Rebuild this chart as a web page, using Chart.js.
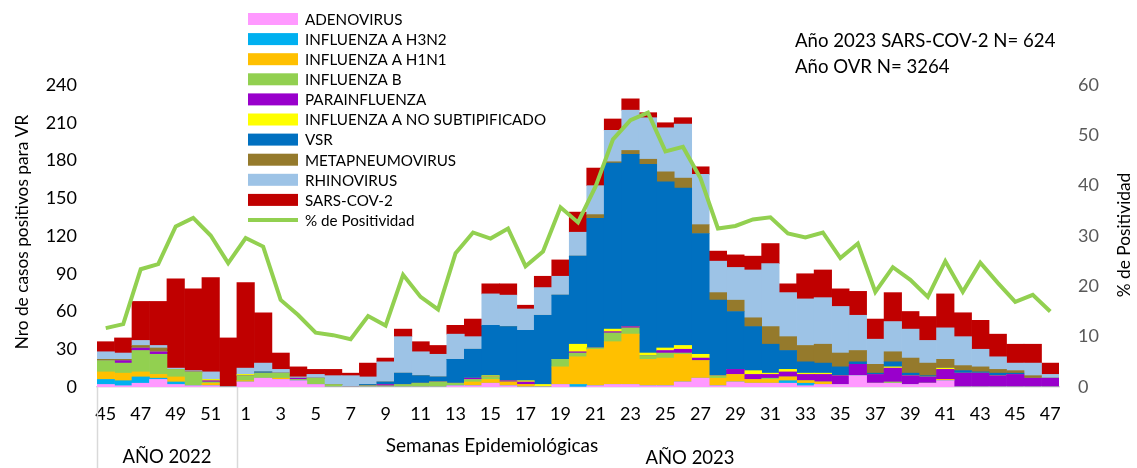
<!DOCTYPE html>
<html><head><meta charset="utf-8">
<script src="https://cdn.jsdelivr.net/npm/chart.js@4.4.1/dist/chart.umd.min.js"></script>
<style>html,body{margin:0;padding:0;background:#fff;}#wrap{width:1137px;height:468px;}</style>
</head><body><div id="wrap"><canvas id="c" width="1137" height="468"></canvas></div>
<script>
const weeks = ['45','46','47','48','49','50','51','52','1','2','3','4','5','6','7','8','9','10','11','12','13','14','15','16','17','18','19','20','21','22','23','24','25','26','27','28','29','30','31','32','33','34','35','36','37','38','39','40','41','42','43','44','45','46','47'];
const adeno = [2,1,3,6,2,1,1,0, 4,7,6,5,2,0,0,0,0,0, 0,0,1,1,3,1,0,0,2,0, 1,2,2,1,1,4,7,1,4,3, 3,3,1,2,2,9,3,3,2,3, 5,0,0,0,0,0,0];
const h3n2 = [4,4,5,1,2,0,0,0, 0,0,0,0,0,0,0,0,0,0, 0,0,0,0,0,0,0,0,0,2, 0,0,0,0,0,0,0,0,0,0, 0,2,2,0,0,0,0,0,0,0, 0,0,0,0,0,0,0];
const h1n1 = [6,6,4,3,4,0,2,0, 1,0,1,0,0,0,0,0,0,0, 0,0,0,3,3,3,2,0,14,22, 29,34,40,21,22,22,14,6,6,3, 3,3,2,2,0,0,0,0,0,0, 1,0,0,0,0,0,0];
const fluB = [9,8,17,16,6,11,1,0, 4,4,4,1,5,2,0,1,1,2, 3,4,2,2,2,0,0,0,6,3, 1,7,5,3,4,1,0,2,0,0, 1,0,0,0,0,0,0,1,0,0, 0,0,0,0,0,0,0];
const para = [0,2,2,2,0,0,1,0, 0,0,0,1,0,0,0,0,1,0, 0,0,0,1,0,1,2,0,0,1, 0,1,1,0,2,3,2,0,4,4, 3,4,5,6,7,9,7,11,7,5, 8,11,11,9,10,7,7];
const fluNS = [0,0,0,0,0,0,1,0, 1,0,0,0,0,0,0,0,0,0, 0,0,0,0,1,0,1,2,0,6, 0,2,0,2,2,3,3,0,0,3, 1,2,1,1,0,0,0,1,0,0, 1,0,0,0,0,0,0];
const vsr = [0,0,0,0,0,0,0,0, 0,1,0,0,0,0,0,1,2,9, 6,4,19,23,40,43,40,55,51,70, 103,132,137,150,132,125,96,60,46,35, 23,15,9,8,7,2,1,4,2,1, 0,2,1,2,1,0,0];
const metap = [1,1,2,3,0,0,0,0, 0,0,0,0,0,0,0,0,0,0, 0,0,0,0,0,0,0,0,0,0, 3,1,3,4,8,8,7,6,9,7, 14,11,13,15,11,9,7,8,12,10, 7,4,4,3,2,2,0];
const rhino = [6,5,4,2,1,1,6,0, 5,7,3,1,3,7,9,6,16,29, 19,18,20,10,25,25,17,22,15,19, 23,25,32,33,35,43,40,25,26,38, 50,35,37,37,37,28,20,24,23,18, 25,23,14,10,6,10,3];
const sars = [8,12,31,35,71,65,75,39, 68,40,13,8,4,5,2,11,3,6, 8,7,7,14,8,9,3,9,13,16, 14,9,9,4,4,5,6,8,10,11, 16,7,20,22,14,19,16,23,14,19, 27,19,23,18,15,15,9];
const positivity = [11.7,12.5,23.4,24.4,31.9,33.6,30.1,24.6, 29.6,27.9,17.3,14.3,10.8,10.3,9.5,14.1,12.2,22.3, 17.9,15.4,26.6,30.7,29.5,31.5,24.0,26.9,35.7,32.7, 39.8,49.2,53.0,54.5,46.8,47.7,41.5,31.5,32.0,33.3, 33.7,30.5,29.7,30.7,25.6,28.5,18.9,23.8,21.3,17.9, 25.0,18.9,24.7,20.7,16.9,18.3,15.0];
const leftTicks = [0,30,60,90,120,150,180,210,240];
const rightTicks = [0,10,20,30,40,50,60];

const FONT = 'Lato, "Open Sans", sans-serif';
function bar(label, data, color){
  return {type:'bar', label, data, backgroundColor:color, borderWidth:0, yAxisID:'y', stack:'s', order:1,
          barPercentage:1.0, categoryPercentage:1.0};
}
const datasets = [
  bar('ADENOVIRUS', adeno, '#ff99ff'),
  bar('INFLUENZA A H3N2', h3n2, '#00b0f0'),
  bar('INFLUENZA A H1N1', h1n1, '#ffc000'),
  bar('INFLUENZA B', fluB, '#92d050'),
  bar('PARAINFLUENZA', para, '#9900cc'),
  bar('INFLUENZA A NO SUBTIPIFICADO', fluNS, '#ffff00'),
  bar('VSR', vsr, '#0070c0'),
  bar('METAPNEUMOVIRUS', metap, '#957a2c'),
  bar('RHINOVIRUS', rhino, '#9dc3e6'),
  bar('SARS-COV-2', sars, '#c00000'),
  {type:'line', label:'% de Positividad', data:positivity, borderColor:'#92d050', backgroundColor:'#92d050',
   borderWidth:4, pointRadius:0, tension:0, yAxisID:'y1', order:0, fill:false}
];

const decor = {
  id:'decor',
  afterDraw(chart){
    const ctx = chart.ctx;
    const ca = chart.chartArea;
    ctx.save();
    // legend
    const ly = 19;
    const lx = 248;
    ctx.font = '15.2px ' + FONT;
    ctx.textBaseline = 'middle';
    ctx.textAlign = 'left';
    chart.data.datasets.forEach((ds, i) => {
      const y = ly + i * 20.1;
      if (ds.type === 'line') {
        ctx.strokeStyle = ds.borderColor; ctx.lineWidth = 4;
        ctx.beginPath(); ctx.moveTo(lx, y); ctx.lineTo(lx + 50, y); ctx.stroke();
      } else {
        ctx.fillStyle = ds.backgroundColor;
        ctx.fillRect(lx, y - 6, 50, 12);
      }
      ctx.fillStyle = '#000';
      ctx.fillText(ds.label, lx + 57, y + 1);
    });
    // annotations
    ctx.font = '18.6px ' + FONT;
    ctx.fillStyle = '#000';
    ctx.fillText('Año 2023 SARS-COV-2 N= 624', 795, 41);
    ctx.fillText('Año OVR N= 3264', 795, 67);
    // axis titles
    ctx.save();
    ctx.translate(22, 232); ctx.rotate(-Math.PI/2);
    ctx.textAlign = 'center'; ctx.font = '17.3px ' + FONT;
    ctx.fillText('Nro de casos positivos para VR', 0, 0);
    ctx.restore();
    ctx.save();
    ctx.translate(1124, 235); ctx.rotate(-Math.PI/2);
    ctx.textAlign = 'center'; ctx.font = '17.3px ' + FONT;
    ctx.fillText('% de Positividad', 0, 0);
    ctx.restore();
    // multi-level category separators
    const w = (ca.right - ca.left) / weeks.length;
    ctx.strokeStyle = '#d9d9d9'; ctx.lineWidth = 1.5;
    [ca.left, ca.left + 8 * w].forEach(x => {
      ctx.beginPath(); ctx.moveTo(Math.round(x) + 0.5, ca.bottom); ctx.lineTo(Math.round(x) + 0.5, 468); ctx.stroke();
    });
    ctx.fillStyle = '#000';
    ctx.textAlign = 'center';
    ctx.font = '18.5px ' + FONT;
    ctx.fillText('AÑO 2022', ca.left + 4 * w, 457);
    ctx.fillText('AÑO 2023', 690, 458);
    ctx.font = '19px ' + FONT;
    ctx.fillText('Semanas Epidemiológicas', 492, 446);
    ctx.restore();
  }
};

new Chart(document.getElementById('c'), {
  data: {labels: weeks, datasets},
  options: {
    responsive:false, animation:false,
    layout:{padding:{top:85, left:0, right:0, bottom:0}},
    plugins:{legend:{display:false}, tooltip:{enabled:false}},
    scales:{
      x:{stacked:true, grid:{display:false, drawTicks:false}, border:{display:true, color:'#d9d9d9', width:1.5},
         ticks:{autoSkip:false, maxRotation:0, minRotation:0, padding:16, color:'#000', font:{family:FONT, size:18},
                callback:function(v, i){ return i % 2 === 0 ? weeks[i] : ''; }},
         afterFit:function(s){ s.height = 81; }},
      y:{position:'left', stacked:true, min:0, max:240, grid:{display:false, drawTicks:false}, border:{display:false},
         ticks:{stepSize:30, padding:20, color:'#000', font:{family:FONT, size:18}},
         afterBuildTicks:function(s){ s.ticks = leftTicks.map(v => ({value:v})); },
         afterFit:function(s){ s.width = 97; }},
      y1:{position:'right', min:0, max:60, grid:{display:false, drawTicks:false}, border:{display:false},
         ticks:{stepSize:10, padding:19, color:'#595959', font:{family:FONT, size:18}},
         afterBuildTicks:function(s){ s.ticks = rightTicks.map(v => ({value:v})); },
         afterFit:function(s){ s.width = 78; }}
    }
  },
  plugins:[decor]
});
</script></body></html>
